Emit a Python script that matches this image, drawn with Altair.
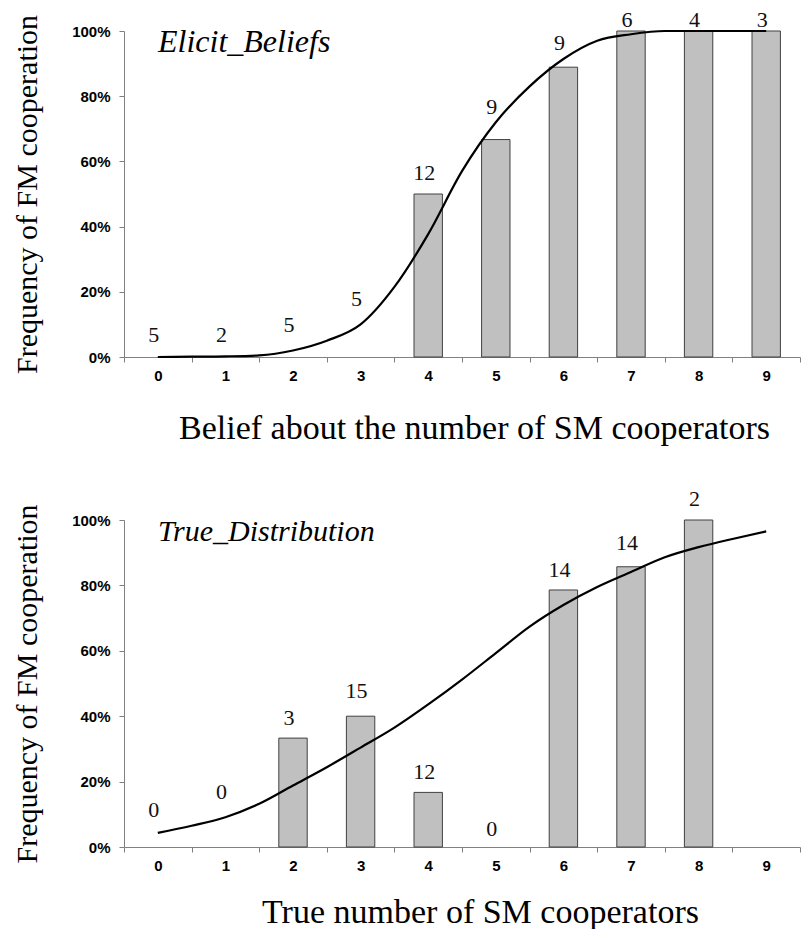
import altair as alt
import pandas as pd

cats = list(range(10))
curve_x = [i / 2 for i in range(19)]
tick_bounds = [i - 0.5 for i in range(11)]
y_ticks = [0, 0.2, 0.4, 0.6, 0.8, 1.0]

# Top panel: Elicit_Beliefs
top_counts = [5, 2, 5, 5, 12, 9, 9, 6, 4, 3]
top_freq = [0, 0, 0, 0, 0.5, 0.667, 0.889, 1.0, 1.0, 1.0]
top_label_y = [0.067, 0.068, 0.098, 0.179, 0.565, 0.767, 0.962, 1.035, 1.033, 1.033]
top_curve = [0.0, 0.001, 0.002, 0.005, 0.02, 0.05, 0.10, 0.215, 0.377, 0.57,
             0.72, 0.83, 0.914, 0.97, 0.99, 1.0, 1.0, 1.0, 1.0]

# Bottom panel: True_Distribution
bot_counts = [0, 0, 3, 15, 12, 0, 14, 14, 2]
bot_freq = [0, 0, 0.333, 0.40, 0.167, 0, 0.786, 0.857, 1.0, 0]
bot_label_y = [0.112, 0.167, 0.395, 0.476, 0.228, 0.056, 0.846, 0.931, 1.064]
bot_curve = [0.043, 0.065, 0.091, 0.132, 0.188, 0.244, 0.304, 0.365, 0.436, 0.512,
             0.593, 0.674, 0.74, 0.795, 0.841, 0.886, 0.917, 0.942, 0.965]

W = 676
SERIF = "Liberation Serif"
SANS = "Liberation Sans"
GRAY = "#808080"


def panel(counts, freq, label_y, curve, name, name_size, xtitle, title_pad, title_shift, h):
    bars_df = pd.DataFrame({"k": cats, "f": freq})
    bars_df = bars_df[bars_df["f"] > 0].copy()
    bars_df["lo"] = bars_df["k"] - 0.21
    bars_df["hi"] = bars_df["k"] + 0.21
    bars_df["z"] = 0.0
    lab_df = pd.DataFrame({"k": cats[:len(counts)], "n": counts, "ly": label_y})
    curve_df = pd.DataFrame({"cx": curve_x, "cy": curve})
    name_df = pd.DataFrame({"t": [name]})

    xscale = alt.Scale(domain=[-0.5, 9.5], nice=False, zero=False)
    yscale = alt.Scale(domain=[0, 1], nice=False)
    yaxis = alt.Axis(values=y_ticks, format=".0%", labelFont=SANS, labelFontWeight="bold",
                     labelFontSize=15, labelColor="#000", labelPadding=9, tickSize=5,
                     tickColor=GRAY, domainColor=GRAY, grid=False,
                     title="Frequency of FM cooperation", titleFont=SERIF,
                     titleFontSize=30, titleFontWeight="normal", titleColor="#000",
                     titlePadding=29)

    bars = alt.Chart(bars_df).mark_bar(fill="#c0c0c0", stroke="#404040", strokeWidth=1).encode(
        x=alt.X("lo:Q", scale=xscale,
                axis=alt.Axis(values=cats, ticks=False, domain=False, orient="bottom",
                              labelFont=SANS, labelFontWeight="bold", labelFontSize=15,
                              labelColor="#000", labelPadding=11, grid=False,
                              title=xtitle, titleFont=SERIF, titleFontSize=34,
                              titleFontWeight="normal", titleColor="#000",
                              titlePadding=title_pad, titleX=W / 2 + title_shift,
                              titleAlign="center")),
        x2="hi:Q",
        y=alt.Y("f:Q", scale=yscale, axis=yaxis),
        y2="z:Q",
    )

    line = alt.Chart(curve_df).mark_line(color="#000", strokeWidth=2.2, interpolate="monotone").encode(
        x=alt.X("cx:Q", scale=xscale,
                axis=alt.Axis(values=tick_bounds, labels=False, tickSize=5, tickColor=GRAY,
                              domainColor=GRAY, orient="bottom", grid=False, title=None)),
        y=alt.Y("cy:Q", scale=yscale, axis=yaxis),
    )

    labels = alt.Chart(lab_df).mark_text(font=SERIF, fontSize=22, color="#111", dx=-4,
                                         baseline="middle").encode(
        x=alt.X("k:Q", scale=xscale, axis=None),
        y=alt.Y("ly:Q", scale=yscale, axis=yaxis),
        text="n:Q",
    )

    title_txt = alt.Chart(name_df).mark_text(font=SERIF, fontSize=name_size, fontStyle="italic",
                                             align="left", baseline="alphabetic",
                                             color="#000").encode(
        x=alt.value(34), y=alt.value(21), text="t:N"
    )

    return alt.layer(bars, line, labels, title_txt).resolve_axis(x="independent").properties(
        width=W, height=h
    )


top = panel(top_counts, top_freq, top_label_y, top_curve, "Elicit_Beliefs", 32,
            "Belief about the number of SM cooperators", 28, 12, 326)
bot = panel(bot_counts, bot_freq, bot_label_y, bot_curve, "True_Distribution", 30,
            "True number of SM cooperators", 22, 18, 327)

chart = alt.vconcat(top, bot, spacing=43).properties(
    padding={"left": 4, "top": 0, "right": 0, "bottom": 0},
    background="white",
).configure_view(stroke=None)

chart.save("out.html", embed_options={"renderer": "svg", "actions": False})
